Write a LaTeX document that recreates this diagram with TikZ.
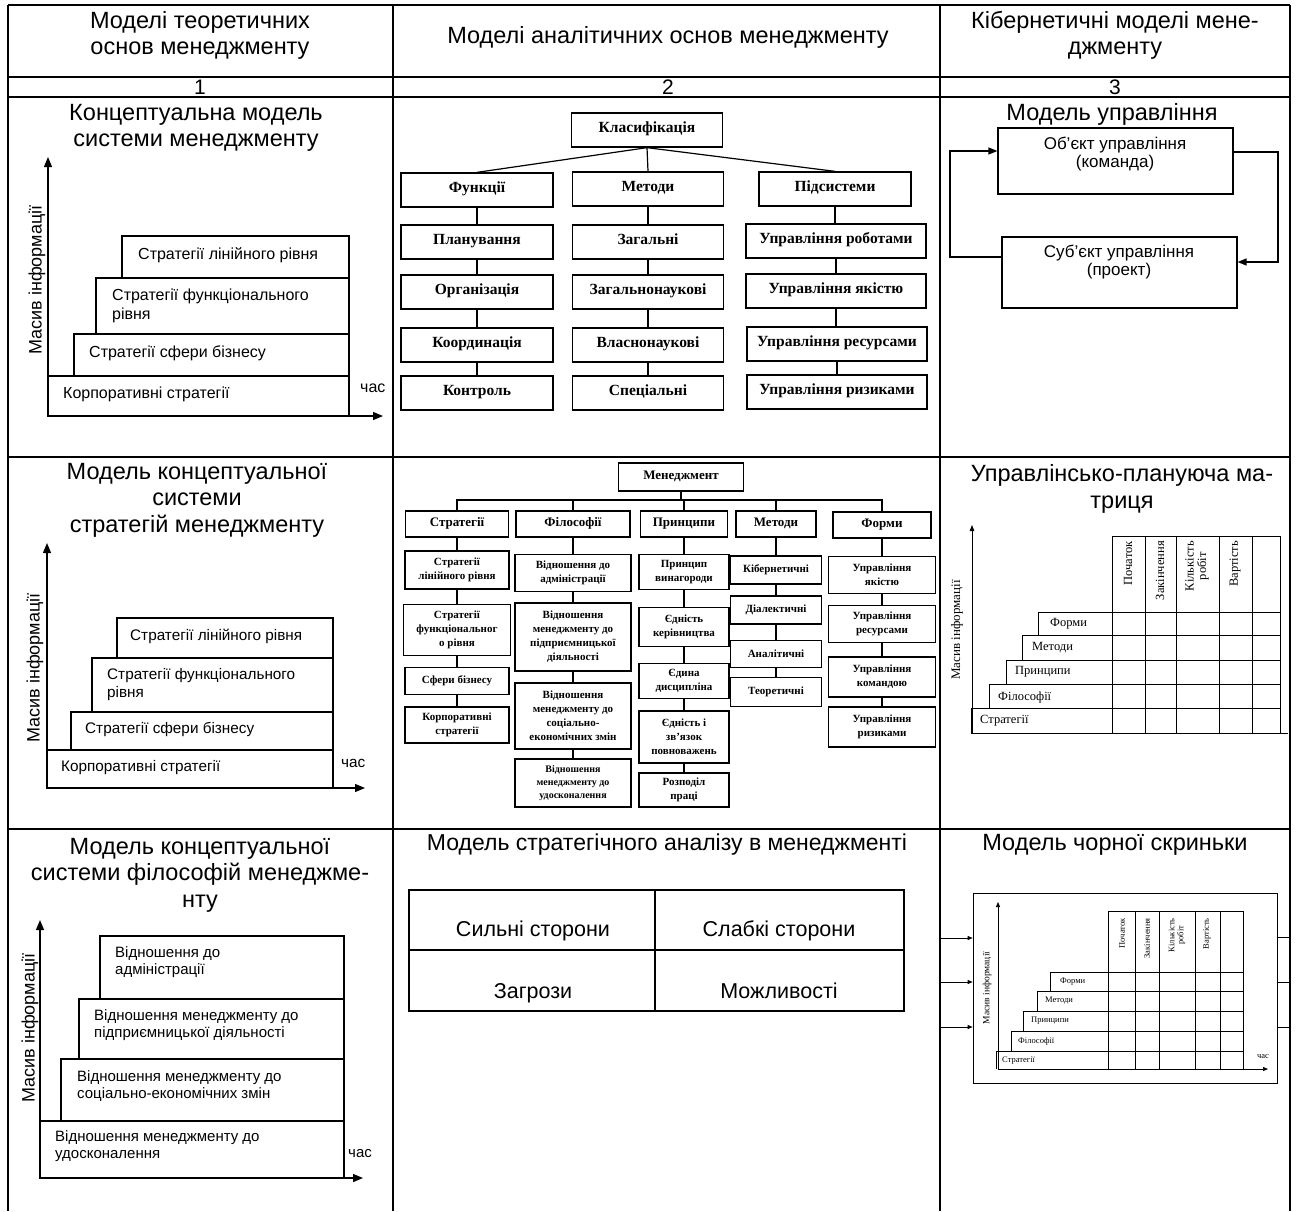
\documentclass[tikz,border=0pt]{standalone}
\usepackage{fontspec}
\setmainfont{Liberation Sans}
\newfontfamily\serf{Liberation Serif}
\usetikzlibrary{arrows.meta,calc}
\begin{document}
\begin{tikzpicture}[x=1pt,y=-1pt]
\tikzset{
 frame/.style={line width=2pt},
 hdr/.style={font=\fontsize{23.5}{26}\selectfont, align=center, inner sep=0},
 num/.style={font=\fontsize{21}{24}\selectfont, inner sep=0},
 ttl/.style={font=\fontsize{23.5}{26.5}\selectfont, align=center, inner sep=0},
 lab/.style={font=\fontsize{16}{19}\selectfont, align=left, anchor=west, inner sep=0},
 axlab/.style={font=\fontsize{18}{20}\selectfont, rotate=90, inner sep=0},
 axis/.style={line width=1.2pt, -{Triangle[length=10pt,width=8pt]}},
 st/.style={line width=1.1pt},
 tA/.style={draw, line width=1.3pt, font=\serf\bfseries\fontsize{15.5}{18}\selectfont, inner sep=0, minimum height=34, text height=0.72em, text depth=0.22em},
 tB/.style={draw, line width=1.1pt, font=\serf\bfseries\fontsize{11}{14}\selectfont, inner sep=0, align=center},
 tBh/.style={draw, line width=1.1pt, inner sep=0, font=\serf\bfseries\fontsize{13}{15}\selectfont, text height=0.72em, text depth=0.22em},
 tl/.style={line width=1.2pt},
 cb/.style={draw, line width=1.2pt, minimum width=235, inner sep=0},
 cbt/.style={font=\fontsize{17}{18.5}\selectfont, align=center, inner sep=0},
 fb/.style={line width=1.3pt, -{Triangle[length=9pt,width=7pt]}},
 mx/.style={line width=0.9pt},
 mxax/.style={line width=0.9pt, -{Triangle[length=6pt,width=4.5pt]}},
 mxt/.style={font=\serf\fontsize{12.5}{12.5}\selectfont, inner sep=0},
 mxl/.style={mxt, anchor=west},
 mxh/.style={mxt, rotate=90, anchor=east, align=center},
 sm/.style={line width=0.7pt},
 smax/.style={line width=0.7pt, -{Triangle[length=5pt,width=4pt]}},
 smt/.style={font=\serf\fontsize{8.5}{9}\selectfont, inner sep=0},
 sml/.style={smt, anchor=west},
 smh/.style={smt, rotate=90, anchor=east, align=center},
 sw/.style={line width=1.8pt},
 swt/.style={font=\fontsize{21.5}{22}\selectfont, inner sep=0, anchor=base},
}
\useasboundingbox (0,0) rectangle (1297,1211);
\fill[white] (0,0) rectangle (1297,1211);

% ---------- table frame ----------
\draw[frame] (8,5) -- (1290,5);
\foreach \yy in {77,97,457,829} \draw[frame] (8,\yy) -- (1290,\yy);
\foreach \xx in {8,393,940,1290} \draw[frame] (\xx,5) -- (\xx,1211);

% ---------- header ----------
\node[hdr] (h1) at (200,35) {Моделі теоретичних\\основ менеджменту};
\node[hdr] (h2) at (668,37) {Моделі аналітичних основ менеджменту};
\node[hdr] (h3) at (1115,35) {Кібернетичні моделі мене-\\джменту};
\node[num] (n1) at (200,87) {1};
\node[num] (n2) at (668,87) {2};
\node[num] (n3) at (1115,87) {3};

% ---------- row 1, col 1 ----------
\node[ttl] (t11) at (196,128) {Концептуальна модель\\системи менеджменту};
\draw[axis] (48,416) -- (48,157);
\draw[axis] (48,416) -- (383,416);
\draw[st] (48,376) rectangle (349,416);
\draw[st] (74,334) rectangle (349,376);
\draw[st] (96,278) rectangle (349,334);
\draw[st] (122,236) rectangle (349,278);
\node[lab] (l11a) at (63,394) {Корпоративні стратегії};
\node[lab] (l11b) at (89,353) {Стратегії сфери бізнесу};
\node[lab] (l11c) at (112,306) {Стратегії функціонального\\рівня};
\node[lab] (l11d) at (138,255) {Стратегії лінійного рівня};
\node[lab] (c11) at (360,388) {час};
\node[axlab] (m11) at (37,280) {Масив інформації};

% ---------- row 2, col 1 ----------
\node[ttl] (t21) at (197,500) {Модель концептуальної\\системи\\стратегій менеджменту};
\draw[axis] (47,788) -- (47,543);
\draw[axis] (47,788) -- (365,788);
\draw[st] (47,750) rectangle (333,788);
\draw[st] (71,712) rectangle (333,750);
\draw[st] (92,658) rectangle (333,712);
\draw[st] (117,618) rectangle (333,658);
\node[lab, font=\fontsize{15.3}{18}\selectfont] (l21a) at (61,768) {Корпоративні стратегії};
\node[lab, font=\fontsize{15.3}{18}\selectfont] (l21b) at (85,729) {Стратегії сфери бізнесу};
\node[lab, font=\fontsize{15.3}{18}\selectfont] (l21c) at (107,685) {Стратегії функціонального\\рівня};
\node[lab, font=\fontsize{15.3}{18}\selectfont] (l21d) at (130,636) {Стратегії лінійного рівня};
\node[lab, font=\fontsize{15.3}{18}\selectfont] (c21) at (341,763) {час};
\node[axlab] (m21) at (35,668) {Масив інформації};

% ---------- row 3, col 1 ----------
\node[ttl] (t31) at (200,875) {Модель концептуальної\\системи філософій менеджме-\\нту};
\draw[axis] (40,1178) -- (40,920);
\draw[axis] (40,1178) -- (363,1178);
\draw[st] (40,1121) rectangle (344,1178);
\draw[st] (61,1059) rectangle (344,1121);
\draw[st] (79,999) rectangle (344,1059);
\draw[st] (100,936) rectangle (344,999);
\node[lab, font=\fontsize{15}{17.5}\selectfont] (l31a) at (55,1146) {Відношення менеджменту до\\удосконалення};
\node[lab, font=\fontsize{15}{17.5}\selectfont] (l31b) at (77,1086) {Відношення менеджменту до\\соціально-економічних змін};
\node[lab, font=\fontsize{15}{17.5}\selectfont] (l31c) at (94,1025) {Відношення менеджменту до\\підприємницької діяльності};
\node[lab, font=\fontsize{15}{17.5}\selectfont] (l31d) at (115,962) {Відношення до\\адміністрації};
\node[lab, font=\fontsize{15}{17.5}\selectfont] (c31) at (348,1154) {час};
\node[axlab] (m31) at (30,1028) {Масив інформації};

% ---------- row 1, col 2 : classification tree ----------
\node[tA, minimum width=151] (cls) at (647,130) {Класифікація};
\node[tA, minimum width=152] (fun) at (477,190) {Функції};
\node[tA, minimum width=151] (met) at (648,189) {Методи};
\node[tA, minimum width=152] (sub) at (835,189) {Підсистеми};
\node[tA, minimum width=152] (fa1) at (477,242) {Планування};
\node[tA, minimum width=152] (fa2) at (477,292) {Організація};
\node[tA, minimum width=152] (fa3) at (477,345) {Координація};
\node[tA, minimum width=152] (fa4) at (477,393) {Контроль};
\node[tA, minimum width=151] (mb1) at (648,242) {Загальні};
\node[tA, minimum width=151] (mb2) at (648,292) {Загальнонаукові};
\node[tA, minimum width=151] (mb3) at (648,345) {Власнонаукові};
\node[tA, minimum width=151] (mb4) at (648,393) {Спеціальні};
\node[tA, minimum width=180] (sc1) at (836,241) {Управління роботами};
\node[tA, minimum width=180] (sc2) at (836,291) {Управління якістю};
\node[tA, minimum width=180] (sc3) at (837,344) {Управління ресурсами};
\node[tA, minimum width=180] (sc4) at (837,392) {Управління ризиками};
\draw[tl] (cls.south) -- (fun.north);
\draw[tl] (cls.south) -- (met.north);
\draw[tl] (cls.south) -- (sub.north);
\draw[tl] (fun) -- (fa1) -- (fa2) -- (fa3) -- (fa4);
\draw[tl] (met.south) -- (mb1.north);
\draw[tl] (mb1) -- (mb2) -- (mb3) -- (mb4);
\draw[tl] (sub.south) -- (sub.south |- sc1.north);
\draw[tl] (sc1) -- (sc2);
\draw[tl] (sc2.south) -- (sc2.south |- sc3.north);
\draw[tl] (sc3) -- (sc4);

% ---------- row 2, col 2 : management tree ----------
\node[tBh, minimum width=125, minimum height=28] (mg) at (681,477) {Менеджмент};
\node[tBh, minimum width=103, minimum height=26] (gs) at (457,524) {Стратегії};
\node[tBh, minimum width=114, minimum height=26] (gp) at (573,524) {Філософії};
\node[tBh, minimum width=87, minimum height=26] (gr) at (684,524) {Принципи};
\node[tBh, minimum width=80, minimum height=26] (gm) at (776,524) {Методи};
\node[tBh, minimum width=98, minimum height=26] (gf) at (882,525) {Форми};
\coordinate (busL) at (457,500);
\draw[tl] (gs.north) -- (gs.north |- busL) -- (gf.north |- busL) -- (gf.north);
\draw[tl] (mg.south) -- (mg.south |- busL);
\draw[tl] (gp.north) -- (gp.north |- busL);
\draw[tl] (gr.north) -- (gr.north |- busL);
\draw[tl] (gm.north) -- (gm.north |- busL);
% strategies
\node[tB, minimum width=104, minimum height=38] (s1) at (457,570) {Стратегії\\лінійного рівня};
\node[tB, minimum width=107, minimum height=51] (s2) at (457,630) {Стратегії\\функціональног\\о рівня};
\node[tB, minimum width=104, minimum height=27] (s3) at (457,681) {Сфери бізнесу};
\node[tB, minimum width=104, minimum height=36] (s4) at (457,725) {Корпоративні\\стратегії};
\draw[tl] (gs) -- (s1) -- (s2) -- (s3) -- (s4);
% philosophies
\node[tB, minimum width=116, minimum height=37] (p1) at (573,573) {Відношення до\\адміністрації};
\node[tB, minimum width=116, minimum height=68] (p2) at (573,637) {Відношення\\менеджменту до\\підприємницької\\діяльності};
\node[tB, minimum width=116, minimum height=66] (p3) at (573,716) {Відношення\\менеджменту до\\соціально-\\економічних змін};
\node[tB, minimum width=116, minimum height=48, font=\serf\bfseries\fontsize{10}{13}\selectfont] (p4) at (573,783) {Відношення\\менеджменту до\\удосконалення};
\draw[tl] (gp) -- (p1) -- (p2) -- (p3) -- (p4);
% principles
\node[tB, minimum width=90, minimum height=35] (r1) at (684,572) {Принцип\\винагороди};
\node[tB, minimum width=90, minimum height=39] (r2) at (684,627) {Єдність\\керівництва};
\node[tB, minimum width=90, minimum height=35] (r3) at (684,681) {Єдина\\дисципліна};
\node[tB, minimum width=90, minimum height=52] (r4) at (684,737) {Єдність і\\зв’язок\\повноважень};
\node[tB, minimum width=90, minimum height=34] (r5) at (684,790) {Розподіл\\праці};
\draw[tl] (gr) -- (r1) -- (r2) -- (r3) -- (r4) -- (r5);
% methods
\node[tB, minimum width=91, minimum height=28] (m1) at (776,570) {Кібернетичні};
\node[tB, minimum width=91, minimum height=28] (m2) at (776,610) {Діалектичні};
\node[tB, minimum width=91, minimum height=27] (m3) at (776,654) {Аналітичні};
\node[tB, minimum width=91, minimum height=29] (m4) at (776,692) {Теоретичні};
\draw[tl] (gm) -- (m1) -- (m2) -- (m3) -- (m4);
% forms
\node[tB, minimum width=107, minimum height=37] (f1) at (882,575) {Управління\\якістю};
\node[tB, minimum width=107, minimum height=37] (f2) at (882,624) {Управління\\ресурсами};
\node[tB, minimum width=107, minimum height=40] (f3) at (882,677) {Управління\\командою};
\node[tB, minimum width=107, minimum height=40] (f4) at (882,727) {Управління\\ризиками};
\draw[tl] (gf) -- (f1) -- (f2) -- (f3) -- (f4);

% ---------- row 3, col 2 : SWOT ----------
\node[ttl, font=\fontsize{23}{26}\selectfont] (t32) at (667,845) {Модель стратегічного аналізу в менеджменті};
\node[draw, sw, minimum width=246, minimum height=60, inner sep=0] (sw1) at (532,920) {};
\node[draw, sw, minimum width=249, minimum height=60, inner sep=0] (sw2) at (779.5,920) {};
\node[draw, sw, minimum width=246, minimum height=61, inner sep=0] (sw3) at (532,980.5) {};
\node[draw, sw, minimum width=249, minimum height=61, inner sep=0] (sw4) at (779.5,980.5) {};
\node[swt] at (533,936) {Сильні сторони};
\node[swt] at (779,936) {Слабкі сторони};
\node[swt] at (533,998) {Загрози};
\node[swt] at (779,998) {Можливості};

% ---------- row 1, col 3 : control model ----------
\node[ttl] (t13) at (1112,114) {Модель управління};
\node[cb, minimum height=66] (obj) at (1115.5,161) {};
\node[cb, minimum height=71] (subj) at (1119.5,272.5) {};
\node[cbt] at (1115,154) {Об’єкт управління\\(команда)};
\node[cbt] at (1119,262) {Суб’єкт управління\\(проект)};
\draw[fb] ([yshift=15.5pt]subj.west) -- (950,257) -- (950,151) -- ([yshift=10pt]obj.west);
\draw[fb] ([yshift=9pt]obj.east) -- (1278,152) -- (1278,262) -- ([yshift=10.5pt]subj.east);

% ---------- row 2, col 3 : planning matrix ----------
\node[ttl] (t23) at (1122,489) {Управлінсько-плануюча ма-\\триця};
\draw[mxax] (972,733) -- (972,525);
\draw[mx] (971,733) -- (1288,733);
\draw[mx] (971,733) -- (971,708) -- (1280,708);
\draw[mx] (989,708) -- (989,684) -- (1280,684);
\draw[mx] (1006,684) -- (1006,660) -- (1280,660);
\draw[mx] (1022,660) -- (1022,635) -- (1280,635);
\draw[mx] (1038,635) -- (1038,612) -- (1280,612);
\draw[mx] (1112,536) -- (1280,536);
\foreach \xx in {1112,1145,1176,1219,1252,1280} \draw[mx] (\xx,536) -- (\xx,733);
\node[mxh] (hp2) at (1128,541) {Початок};
\node[mxh] (hz2) at (1160,541) {Закінчення};
\node[mxh] (hk2) at (1197,541) {Кількість\\робіт};
\node[mxh] (hv2) at (1235,541) {Вартість};
\node[mxl] at (1050,624) {Форми};
\node[mxl] at (1032,648) {Методи};
\node[mxl] at (1015,672) {Принципи};
\node[mxl] at (998,697) {Філософії};
\node[mxl] at (980,721) {Стратегії};
\node[mxt, rotate=90, font=\serf\fontsize{13}{13}\selectfont] (m23) at (957,630) {Масив інформації};

% ---------- row 3, col 3 : black box ----------
\node[ttl] (t33) at (1115,845) {Модель чорної скриньки};
\node[draw, sm, minimum width=304, minimum height=190, inner sep=0] (bb) at (1125,988) {};
\coordinate (in1) at (941,938);
\coordinate (in2) at (941,982);
\coordinate (in3) at (941,1027);
\coordinate (out1) at (1289,937);
\coordinate (out2) at (1289,982);
\coordinate (out3) at (1289,1027);
\draw[smax] (in1) -- (in1 -| bb.west);
\draw[smax] (in2) -- (in2 -| bb.west);
\draw[smax] (in3) -- (in3 -| bb.west);
\draw[sm] (out1 -| bb.east) -- (out1);
\draw[sm] (out2 -| bb.east) -- (out2);
\draw[sm] (out3 -| bb.east) -- (out3);
\draw[smax] (998,1069) -- (998,902);
\draw[smax] (998,1069) -- (1268,1069);
\draw[sm] (996,1069) -- (996,1051) -- (1243,1051);
\draw[sm] (1011,1051) -- (1011,1031) -- (1243,1031);
\draw[sm] (1023,1031) -- (1023,1011) -- (1243,1011);
\draw[sm] (1037,1011) -- (1037,991) -- (1243,991);
\draw[sm] (1050,991) -- (1050,972) -- (1243,972);
\draw[sm] (1108,911) -- (1243,911);
\foreach \xx in {1108,1135,1159,1195,1220,1243} \draw[sm] (\xx,911) -- (\xx,1069);
\node[smh] (hp3) at (1122,918) {Початок};
\node[smh] (hz3) at (1147,918) {Закінчення};
\node[smh] (hk3) at (1177,918) {Кількість\\робіт};
\node[smh] (hv3) at (1207,918) {Вартість};
\node[sml] at (1060,982) {Форми};
\node[sml] at (1045,1001) {Методи};
\node[sml] at (1031,1021) {Принципи};
\node[sml] at (1018,1041) {Філософії};
\node[sml] at (1002,1061) {Стратегії};
\node[smt] at (1263,1057) {час};
\node[smt, rotate=90, font=\serf\fontsize{9.5}{10}\selectfont] (m33) at (987,988) {Масив інформації};
\end{tikzpicture}
\end{document}
